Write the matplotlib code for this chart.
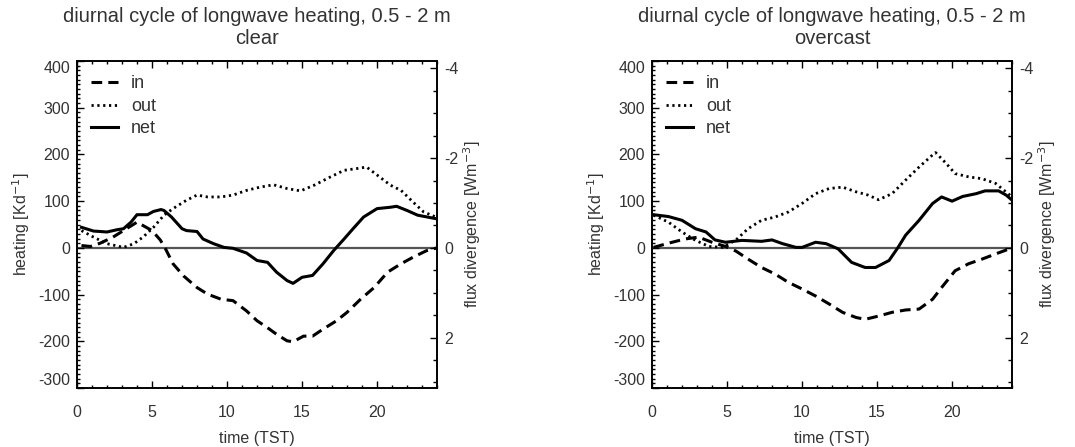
import matplotlib
matplotlib.use('Agg')
import matplotlib.pyplot as plt
from matplotlib.ticker import MultipleLocator

plt.rcParams['font.family'] = ['Liberation Sans', 'DejaVu Sans']
plt.rcParams['axes.unicode_minus'] = False
txt = '#333333'

# clear sky, values (hour, K/d)
clear_in_t = [0.3, 0.9, 1.55, 2.4, 3.1, 4.0, 5.0, 5.55, 5.9, 6.4, 7.1, 8.0, 8.7, 9.6, 10.4, 11.3, 12.0,
              12.7, 13.3, 14.0, 14.4, 15.1, 15.7, 16.4, 17.3, 18.0, 18.9, 19.8, 20.7, 21.6, 22.4, 23.3, 24.0]
clear_in = [5, 3, 10, 23, 37, 55, 37, 17, -2, -34, -60, -85, -99, -110, -113, -135, -156,
            -171, -185, -199, -201, -189, -189, -174, -156, -138, -110, -85, -52, -34, -20, -6, 0]

clear_out_t = [0.3, 1.1, 2.0, 3.1, 3.8, 4.4, 5.1, 5.8, 6.4, 7.3, 8.0, 8.7, 9.6, 10.4, 11.3, 12.2, 13.1,
               14.0, 14.9, 15.8, 16.9, 17.8, 18.7, 19.3, 20.0, 20.9, 21.6, 22.4, 23.1, 24.0]
clear_out = [37, 23, 9, 1, 9, 23, 44, 70, 84, 102, 113, 109, 109, 113, 123, 130, 135,
             127, 122, 134, 152, 166, 170, 173, 156, 134, 123, 98, 77, 65]

clear_net_t = [0.3, 1.1, 2.0, 2.7, 3.1, 3.6, 4.0, 4.7, 5.1, 5.6, 5.8, 6.3, 7.0, 7.3, 8.0, 8.4, 9.1, 9.8,
               10.4, 11.3, 12.0, 12.7, 13.3, 14.0, 14.4, 15.0, 15.7, 16.4, 17.1, 17.8, 18.4, 19.1, 20.0,
               20.9, 21.3, 22.0, 22.7, 24.0]
clear_net = [44, 36, 34, 39, 41, 55, 71, 71, 78, 82, 80, 66, 41, 37, 35, 19, 9, 1,
             -1, -11, -27, -31, -52, -70, -76, -63, -59, -34, -6, 19, 41, 66, 84,
             87, 89, 80, 70, 62]

# overcast
ovc_in_t = [0.1, 1.1, 2.2, 3.1, 4.0, 4.9, 5.6, 6.4, 7.3, 8.2, 9.1, 10.0, 10.9, 11.8, 12.7, 13.6, 14.2,
            15.1, 16.0, 16.9, 17.8, 18.7, 19.3, 20.2, 21.1, 22.0, 22.9, 24.0]
ovc_in = [1, 10, 19, 23, 12, 3, -7, -24, -42, -56, -74, -88, -103, -120, -138, -149, -153,
          -146, -138, -133, -131, -110, -85, -49, -34, -24, -13, 0]

ovc_out_t = [0.1, 1.1, 2.0, 2.9, 3.8, 4.7, 5.6, 6.4, 7.3, 8.2, 9.1, 10.0, 10.9, 11.8, 12.7, 13.6, 14.4,
             15.1, 16.0, 16.9, 17.8, 18.7, 18.9, 19.6, 20.2, 21.1, 22.0, 22.9, 24.0]
ovc_out = [70, 55, 34, 16, 3, 1, 17, 41, 59, 66, 77, 95, 116, 127, 130, 120, 113,
           103, 116, 145, 173, 199, 204, 181, 159, 152, 148, 138, 109]

ovc_net_t = [0.1, 1.1, 2.0, 2.9, 3.6, 4.2, 4.9, 6.0, 7.3, 8.0, 8.7, 9.6, 10.0, 10.9, 11.6, 12.4, 13.3,
             14.2, 14.9, 15.8, 16.4, 16.9, 17.8, 18.7, 19.3, 20.0, 20.7, 21.6, 22.2, 23.1, 23.6, 24.0]
ovc_net = [71, 67, 59, 41, 34, 17, 12, 16, 14, 17, 9, 1, 1, 12, 9, -2, -31,
           -42, -42, -27, 1, 27, 59, 95, 109, 100, 110, 116, 122, 122, 113, 102]

panels = [
    ('clear', clear_in_t, clear_in, clear_out_t, clear_out, clear_net_t, clear_net),
    ('overcast', ovc_in_t, ovc_in, ovc_out_t, ovc_out, ovc_net_t, ovc_net),
]

heat_ticks = [-300, -200, -100, 0, 100, 200, 300, 400]
factor = 96.0  # K/d per W m-3

fig = plt.figure(figsize=(10.75, 4.47), dpi=100)
lefts = [0.0716, 0.6065]

for left, (name, t_in, v_in, t_out, v_out, t_net, v_net) in zip(lefts, panels):
    ax = fig.add_axes([left, 0.132, 0.335, 0.7315])
    ax.axhline(0, color='#555555', lw=1.6, zorder=1)
    ax.plot(t_in, v_in, color='black', lw=2.2, ls=(0, (3.5, 2)), label='in')
    ax.plot(t_out, v_out, color='black', lw=2.0, ls=(0, (0.8, 1.3)), label='out')
    ax.plot(t_net, v_net, color='black', lw=2.2, ls='-', label='net')
    ax.set_xlim(0, 24)
    ax.set_ylim(-300, 400)
    ax.xaxis.set_major_locator(MultipleLocator(5))
    ax.xaxis.set_minor_locator(MultipleLocator(1))
    ax.set_yticks(heat_ticks)
    ax.yaxis.set_minor_locator(MultipleLocator(10))
    ax.tick_params(which='both', direction='in', top=True, right=False, colors='black',
                   labelcolor=txt, labelsize=11.5)
    ax.tick_params(which='major', length=5, width=1)
    ax.tick_params(which='minor', length=2.5, width=1)
    ax.tick_params(axis='x', pad=12)
    ax.tick_params(axis='y', pad=5)
    # end labels sit inside the axis range, like the original
    yt = ax.yaxis.get_major_ticks()
    yt[0].label1.set_verticalalignment('bottom')
    yt[-1].label1.set_verticalalignment('top')
    ax.set_xlabel('time (TST)', color=txt, fontsize=11.5, labelpad=8)
    ax.set_ylabel('heating [Kd$^{-1}$]', color=txt, fontsize=11.5, labelpad=4)
    ax.set_title('diurnal cycle of longwave heating, 0.5 - 2 m\n' + name,
                 color=txt, fontsize=14.5, pad=12, linespacing=1.2)
    for sp in ax.spines.values():
        sp.set_linewidth(1.2)
    leg = ax.legend(loc='upper left', frameon=False, fontsize=13, handlelength=1.45,
                    handletextpad=0.75, labelspacing=0.3, borderaxespad=0.45, borderpad=0.35)
    for t in leg.get_texts():
        t.set_color(txt)

    ax2 = ax.twinx()
    ax2.set_ylim(300 / factor, -400 / factor)
    ax2.yaxis.set_major_locator(MultipleLocator(2))
    ax2.yaxis.set_minor_locator(MultipleLocator(0.5))
    ax2.tick_params(which='both', direction='in', colors='black', labelcolor=txt, labelsize=11.5)
    ax2.tick_params(which='major', length=5, width=1, pad=5)
    ax2.tick_params(which='minor', length=3, width=1)
    ax2.set_ylabel('flux divergence [Wm$^{-3}$]', color=txt, fontsize=11.5, labelpad=2)
    for sp in ax2.spines.values():
        sp.set_linewidth(1.2)

fig.savefig('out.png', dpi=100)
